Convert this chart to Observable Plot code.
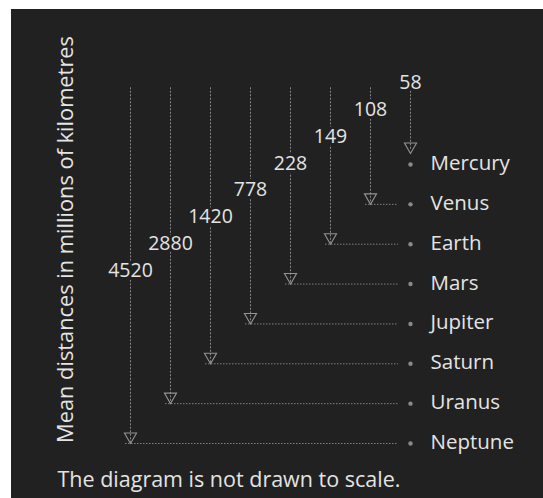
<!DOCTYPE html>
<html>
<head>
<meta charset="utf-8">
<script src="https://cdn.jsdelivr.net/npm/d3@7"></script>
<script src="https://cdn.jsdelivr.net/npm/@observablehq/plot@0.6"></script>
<style>
  html, body { margin: 0; padding: 0; background: #ffffff; }
  #wrap { padding-left: 11px; padding-top: 9px; }
  #wrap svg { display: block; }
</style>
</head>
<body>
<div id="wrap"></div>
<script>
const planets = ["Mercury", "Venus", "Earth", "Mars", "Jupiter", "Saturn", "Uranus", "Neptune"];
const distances = [58, 108, 149, 228, 778, 1420, 2880, 4520];
const axisTitle = "Mean distances in millions of kilometres";
const note = "The diagram is not drawn to scale.";

const rows = planets.map((p, i) => ({
  planet: p,
  distance: distances[i],
  row: i,
  labelLevel: i * 0.675 - 2.03
}));
const lineTop = -1.9;
const others = rows.filter(d => d.planet !== "Mercury");
const mercury = rows.filter(d => d.planet === "Mercury");

const W = 532, H = 489;
const bg = "#212121";
const ink = "#e4e4e4";
const lineColor = "#a8a8a8";

const chart = Plot.plot({
  width: W,
  height: H,
  margin: 0,
  style: { background: bg, fontFamily: "'Open Sans', 'Noto Sans', sans-serif", color: ink },
  x: { type: "point", domain: [...planets].reverse(), range: [116, 402], padding: 0, axis: null },
  y: { type: "linear", domain: [0, 7], range: [154, 433], axis: null },
  marks: [
    // vertical dashed lines
    Plot.ruleX(others, { x: "planet", y1: () => lineTop, y2: "row", stroke: lineColor, strokeWidth: 1, strokeDasharray: "2,1.5", strokeOpacity: 0.75 }),
    Plot.ruleX(mercury, { x: "planet", y1: () => lineTop, y2: "row", insetBottom: 13, stroke: lineColor, strokeWidth: 1, strokeDasharray: "2,1.5", strokeOpacity: 0.75 }),
    // horizontal dotted leaders
    Plot.ruleY(others, { y: "row", x1: "planet", x2: () => "Mercury", insetLeft: -5, insetRight: 12, dy: 1, stroke: lineColor, strokeWidth: 1, strokeDasharray: "1.5,1.5", strokeOpacity: 0.7 }),
    // arrowheads
    Plot.dot(others, { x: "planet", y: "row", dy: -6, symbol: "triangle", rotate: 180, r: 4.5, fill: "none", stroke: lineColor, strokeWidth: 1.1, strokeOpacity: 0.85 }),
    Plot.dot(mercury, { x: "planet", y: "row", dy: -17, symbol: "triangle", rotate: 180, r: 4.5, fill: "none", stroke: lineColor, strokeWidth: 1.1, strokeOpacity: 0.85 }),
    // small markers before names
    Plot.dot(rows, { x: () => "Mercury", y: "row", dy: 1, r: 2.2, fill: "#8a8a8a", stroke: "none" }),
    // distance labels
    Plot.text(rows, { x: "planet", y: "labelLevel", text: d => String(d.distance), fontSize: 19.5, fill: ink, stroke: bg, strokeWidth: 6 }),
    // planet names
    Plot.text(rows, { x: () => "Mercury", y: "row", text: "planet", textAnchor: "start", dx: 20, fontSize: 20.5, fill: ink }),
    // vertical title
    Plot.text([axisTitle], { frameAnchor: "left", text: d => d, rotate: -90, textAnchor: "middle", lineAnchor: "middle", dx: 55, dy: -14.5, fontSize: 21.8, fill: ink }),
    // note
    Plot.text([note], { frameAnchor: "bottom-left", text: d => d, textAnchor: "start", lineAnchor: "middle", dx: 46, dy: -18, fontSize: 21.5, fill: ink })
  ]
});

// faint lighter haze at the top of the panel
const ns = "http://www.w3.org/2000/svg";
const defs = document.createElementNS(ns, "defs");
defs.innerHTML = `<radialGradient id="haze" cx="0.5" cy="0" r="0.5">
  <stop offset="0" stop-color="#747474" stop-opacity="0.95"/>
  <stop offset="0.55" stop-color="#4e4e4e" stop-opacity="0.6"/>
  <stop offset="1" stop-color="#212121" stop-opacity="0"/>
</radialGradient>`;
const haze = document.createElementNS(ns, "ellipse");
haze.setAttribute("cx", 280);
haze.setAttribute("cy", 0);
haze.setAttribute("rx", 205);
haze.setAttribute("ry", 78);
haze.setAttribute("fill", "url(#haze)");
chart.insertBefore(haze, chart.firstChild);
chart.insertBefore(defs, chart.firstChild);

document.getElementById("wrap").appendChild(chart);
</script>
</body>
</html>
